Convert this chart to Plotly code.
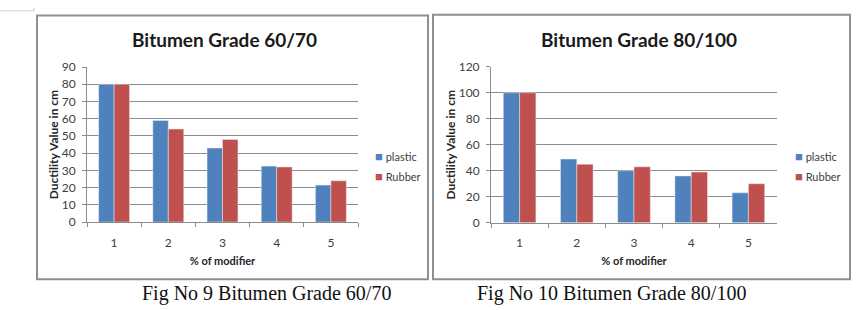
import plotly.graph_objects as go

W, H = 868, 310

categories = ["1", "2", "3", "4", "5"]
plastic_6070 = [80, 59, 43, 32.5, 21.5]
rubber_6070 = [80, 54, 48, 32, 24]
plastic_80100 = [100, 49, 40, 36, 23]
rubber_80100 = [100, 45, 43, 39, 30]

series_names = ["plastic", "Rubber"]
titles = ["Bitumen Grade 60/70", "Bitumen Grade 80/100"]
captions = ["Fig No 9 Bitumen Grade 60/70", "Fig No 10 Bitumen Grade 80/100"]
y_title = "Ductility Value in cm"
x_title = "% of modifier"

BLUE = "#4F81BD"
RED = "#C0504D"
GRID = "#8C8C8C"
TXT = "#404040"
SANS = "Lato, Open Sans, sans-serif"


def px(x):
    return x / W


def py(y):
    return 1 - y / H


fig = go.Figure()

fig.add_trace(go.Bar(x=categories, y=plastic_6070, name=series_names[0], marker_color=BLUE,
                     xaxis="x", yaxis="y"))
fig.add_trace(go.Bar(x=categories, y=rubber_6070, name=series_names[1], marker_color=RED,
                     xaxis="x", yaxis="y"))
fig.add_trace(go.Bar(x=categories, y=plastic_80100, name=series_names[0], marker_color=BLUE,
                     xaxis="x2", yaxis="y2"))
fig.add_trace(go.Bar(x=categories, y=rubber_80100, name=series_names[1], marker_color=RED,
                     xaxis="x2", yaxis="y2"))

tickfont = dict(family=SANS, size=12, color=TXT)
axtitlefont = dict(family=SANS, size=12, color="#262626")
xtitlefont = dict(family=SANS, size=11, color="#262626")

common_x = dict(type="category", showline=True, linecolor=GRID, linewidth=1,
                ticks="outside", ticklen=4, tickcolor=GRID, tickson="boundaries",
                ticklabelstandoff=9,
                tickfont=tickfont, showgrid=False, zeroline=False, fixedrange=True)
common_y = dict(showline=True, linecolor=GRID, linewidth=1, ticks="outside", ticklen=4,
                tickcolor=GRID, showgrid=True, gridcolor=GRID, gridwidth=1,
                ticklabelstandoff=4,
                tickfont=tickfont, zeroline=False, fixedrange=True)

fig.update_layout(
    width=W, height=H,
    margin=dict(l=0, r=0, t=0, b=0),
    paper_bgcolor="white", plot_bgcolor="white",
    barmode="group", bargap=0.43, bargroupgap=0,
    showlegend=False,
    xaxis=dict(domain=[px(87), px(358)], anchor="y",
               title=dict(text="<b>" + x_title + "</b>", font=xtitlefont, standoff=8),
               **common_x),
    yaxis=dict(domain=[py(225), py(62)], anchor="x", range=[0, 90], dtick=10,
               title=dict(text="<b>" + y_title + "</b>", font=axtitlefont, standoff=0),
               **common_y),
    xaxis2=dict(domain=[px(491), px(777)], anchor="y2",
                title=dict(text="<b>" + x_title + "</b>", font=xtitlefont, standoff=8),
                **common_x),
    yaxis2=dict(domain=[py(225.7), py(61.7)], anchor="x2", range=[0, 120], dtick=20,
                title=dict(text="<b>" + y_title + "</b>", font=axtitlefont, standoff=0),
                **common_y),
)

# chart frames
shapes = []
for (x0, y0, x1, y1) in [(37, 8, 428, 285), (433, 7, 850, 285)]:
    shapes.append(dict(type="rect", xref="paper", yref="paper",
                       x0=px(x0), x1=px(x1), y0=py(y1), y1=py(y0),
                       line=dict(color="#8F8F8F", width=2), fillcolor="rgba(0,0,0,0)"))
# faint partial frame at top-left corner
shapes.append(dict(type="line", xref="paper", yref="paper", x0=px(0), x1=px(34),
                   y0=py(3), y1=py(3), line=dict(color="#D0D0D0", width=1)))
shapes.append(dict(type="line", xref="paper", yref="paper", x0=px(34), x1=px(34),
                   y0=py(0), y1=py(3), line=dict(color="#D0D0D0", width=1)))
fig.update_layout(shapes=shapes)

annotations = []
for title, cx in zip(titles, [224, 639]):
    annotations.append(dict(text="<b>" + title + "</b>", x=px(cx), y=py(33), xref="paper",
                            yref="paper", xanchor="center", yanchor="middle", showarrow=False,
                            font=dict(family=SANS, size=19, color="#1a1a1a")))
for cap, cx in zip(captions, [266, 611]):
    annotations.append(dict(text=cap, x=px(cx), y=py(300), xref="paper", yref="paper",
                            xanchor="center", yanchor="middle", showarrow=False,
                            font=dict(family="Liberation Serif, DejaVu Serif, serif", size=20,
                                      color="#111111")))
# legends (swatch + label) for each chart
for lx in [373, 793]:
    for name, col, ly in [(series_names[0], BLUE, 155), (series_names[1], RED, 177)]:
        annotations.append(dict(
            text="<span style='color:%s;font-size:13px'>■</span> %s" % (col, name),
            x=px(lx), y=py(ly), xref="paper", yref="paper", xanchor="left",
            yanchor="middle", showarrow=False,
            font=dict(family=SANS, size=11, color=TXT)))
fig.update_layout(annotations=annotations)

fig.write_html("out.html")
